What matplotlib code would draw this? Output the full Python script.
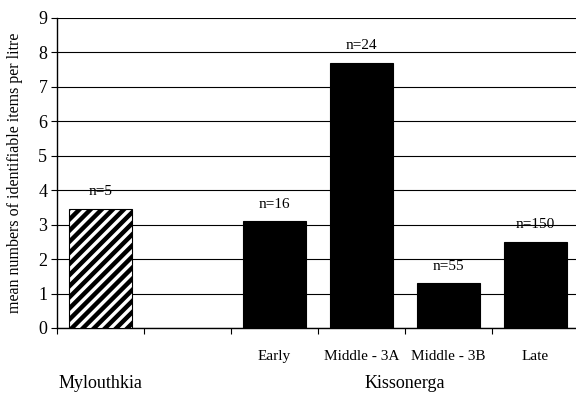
import matplotlib.pyplot as plt
from matplotlib.ticker import FixedLocator

plt.rcParams['font.family'] = ['Liberation Serif', 'DejaVu Serif']
plt.rcParams['hatch.linewidth'] = 3.2

# data
categories = ['', '', 'Early', 'Middle - 3A', 'Middle - 3B', 'Late']
values = [3.45, None, 3.1, 7.7, 1.3, 2.5]
n_labels = ['n=5', '', 'n=16', 'n=24', 'n=55', 'n=150']
hatched = [True, False, False, False, False, False]
groups = ['Mylouthkia', 'Kissonerga']
group_spans = [(0, 1), (2, 6)]
y_ticks = list(range(0, 10))

fig = plt.figure(figsize=(5.76, 3.94), dpi=100)
ax = fig.add_axes([57 / 576, 66 / 394, 522 / 576, 310 / 394])

for i, (v, lab, h) in enumerate(zip(values, n_labels, hatched)):
    if v is None:
        continue
    x = i + 0.5
    if h:
        ax.bar(x, v, width=0.72, color='white', edgecolor='black',
               hatch='///', linewidth=0.8, zorder=3)
    else:
        ax.bar(x, v, width=0.72, color='black', edgecolor='black',
               linewidth=0.8, zorder=3)
    ax.text(x, v + 0.5, lab, ha='center', va='center', fontsize=11)

ax.set_xlim(0, 6)
ax.set_ylim(0, 9)
ax.set_yticks(y_ticks)
ax.tick_params(axis='y', labelsize=13, length=4, width=0.8, direction='out', pad=3)
ax.yaxis.grid(True, color='black', linewidth=0.8, zorder=0)

ax.xaxis.set_major_locator(FixedLocator(range(0, 7)))
ax.xaxis.set_minor_locator(FixedLocator([i + 0.5 for i in range(6)]))
ax.set_xticklabels([''] * 7)
ax.set_xticklabels(categories, minor=True)
ax.tick_params(axis='x', which='major', length=4, width=0.8, direction='out')
ax.tick_params(axis='x', which='minor', length=0, labelsize=11, pad=16)

for s in ['top', 'right']:
    ax.spines[s].set_visible(False)
ax.spines['left'].set_linewidth(1.0)
ax.spines['bottom'].set_linewidth(1.0)

for g, (a, b) in zip(groups, group_spans):
    ax.text((a + b) / 2, -1.6, g, ha='center', va='center', fontsize=13)

ax.set_ylabel('mean numbers of identifiable items per litre', fontsize=11.5)
ax.yaxis.set_label_coords(-34 / 522, 0.5)

fig.savefig('out.png', dpi=100)
